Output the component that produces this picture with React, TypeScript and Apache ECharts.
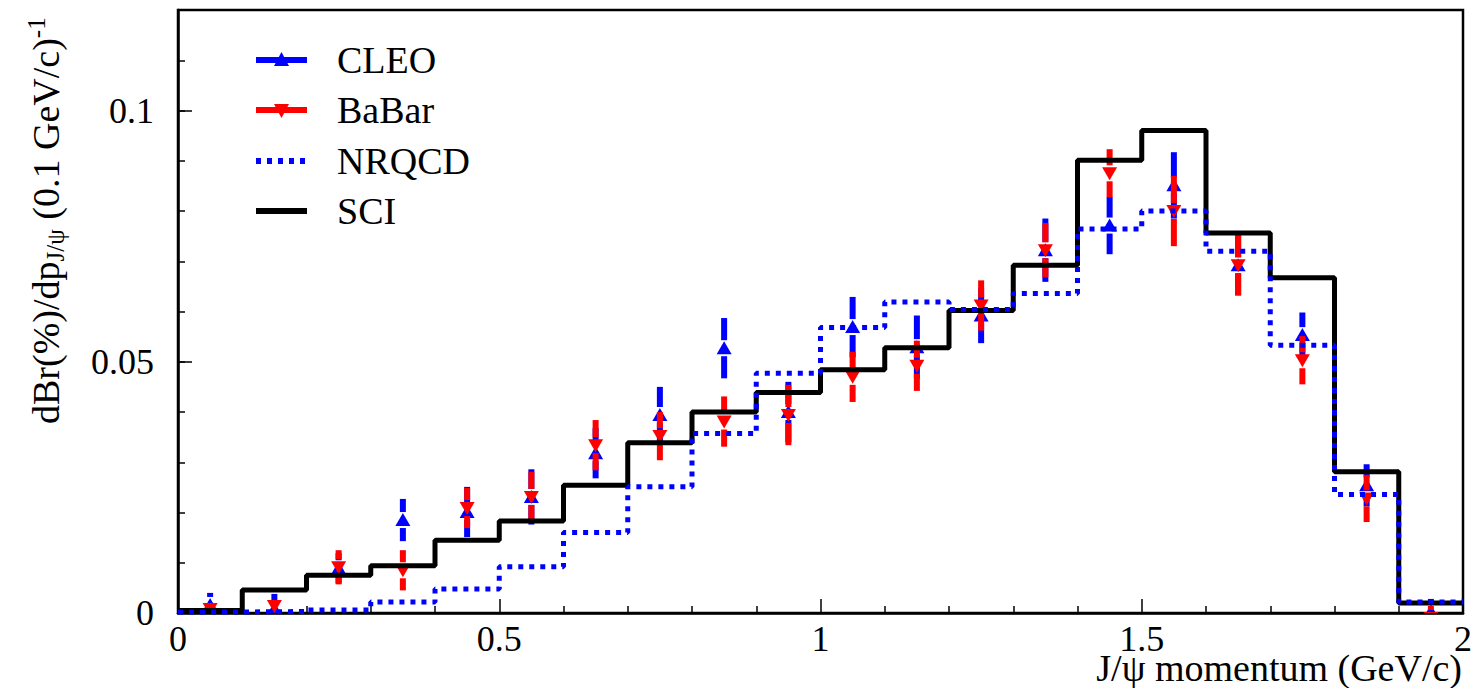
import React, { useEffect, useRef } from "react";
import * as echarts from "echarts";

// Bin edges of the 0.1 GeV/c momentum bins
const binEdges = [0, 0.1, 0.2, 0.3, 0.4, 0.5, 0.6, 0.7, 0.8, 0.9, 1.0, 1.1, 1.2, 1.3, 1.4, 1.5, 1.6, 1.7, 1.8, 1.9, 2.0];

// Theory histograms
const sciValues = [0.0005, 0.0046, 0.0075, 0.0094, 0.0145, 0.0183, 0.0254, 0.0339, 0.0400, 0.0439, 0.0484, 0.0528, 0.0602, 0.0692, 0.0901, 0.0960, 0.0756, 0.0667, 0.0281, 0.0020];
const nrqcdValues = [0.0002, 0.0003, 0.0006, 0.0022, 0.0048, 0.0092, 0.0160, 0.0251, 0.0357, 0.0477, 0.0568, 0.0619, 0.0604, 0.0636, 0.0764, 0.0800, 0.0720, 0.0533, 0.0236, 0.0022];

// Measurements (value, symmetric error) at the bin centres
const cleoValues = [0.0016, 0.0008, 0.0089, 0.0185, 0.0201, 0.0231, 0.0318, 0.0394, 0.0527, 0.0400, 0.0569, 0.0529, 0.0592, 0.0722, 0.0771, 0.0851, 0.0692, 0.0553, 0.0254, 0.0003];
const cleoErrors = [0.0024, 0.003, 0.003, 0.0042, 0.005, 0.0055, 0.005, 0.0056, 0.006, 0.006, 0.006, 0.0063, 0.0055, 0.0063, 0.0057, 0.0066, 0.006, 0.0045, 0.0042, 0.0025];
const babarValues = [0.0008, 0.0014, 0.0091, 0.0085, 0.0209, 0.0231, 0.0334, 0.0352, 0.0381, 0.0394, 0.0470, 0.0492, 0.0612, 0.0722, 0.0875, 0.0800, 0.0692, 0.0503, 0.0228, -0.001];
const babarErrors = [0.001, 0.0015, 0.0034, 0.004, 0.004, 0.005, 0.005, 0.0048, 0.005, 0.006, 0.005, 0.005, 0.005, 0.0054, 0.0048, 0.007, 0.006, 0.0048, 0.0047, 0.0024];

// Axis ticks
const xTickStep = 0.5;
const yTickStep = 0.05;
const yMinorStep = 0.01;
const yMax = 0.12;

const FONT = "Liberation Serif";
const BLUE = "#0000ff";
const RED = "#ff0000";

const binCenters = binEdges.slice(0, -1).map((e, i) => (e + binEdges[i + 1]) / 2);

function histData(vals: number[]) {
  const d = vals.map((v, i) => [binEdges[i], v]);
  d.push([binEdges[binEdges.length - 1], vals[vals.length - 1]]);
  return d;
}

function errorSeries(name: string, values: number[], errors: number[], color: string, up: boolean) {
  return {
    name,
    type: "custom",
    clip: true,
    data: binCenters.map((x, i) => [x, values[i], errors[i]]),
    encode: { x: 0, y: 1 },
    renderItem: (params: any, api: any) => {
      const x = api.value(0);
      const y = api.value(1);
      const e = api.value(2);
      const c = api.coord([x, y]);
      const t = api.coord([x, y + e])[1];
      const b = api.coord([x, y - e])[1];
      const half = 8;
      const children: any[] = [];
      if (c[1] - half > t) {
        children.push({ type: "line", shape: { x1: c[0], y1: t, x2: c[0], y2: c[1] - half }, style: { stroke: color, lineWidth: 6 } });
      }
      if (b > c[1] + half) {
        children.push({ type: "line", shape: { x1: c[0], y1: c[1] + half, x2: c[0], y2: b }, style: { stroke: color, lineWidth: 6 } });
      }
      const pts = up
        ? [[c[0], c[1] - 7], [c[0] - 7.5, c[1] + 6], [c[0] + 7.5, c[1] + 6]]
        : [[c[0], c[1] + 7], [c[0] - 7.5, c[1] - 6], [c[0] + 7.5, c[1] - 6]];
      children.push({ type: "polygon", shape: { points: pts }, style: { fill: color } });
      return { type: "group", children };
    },
  };
}

function legendItems() {
  const x1 = 256, x2 = 307, xt = 337;
  const rows = [
    { label: "CLEO", y: 60, color: BLUE, dash: null as any, marker: "up" },
    { label: "BaBar", y: 110, color: RED, dash: null as any, marker: "down" },
    { label: "NRQCD", y: 161, color: BLUE, dash: [5, 6], marker: "" },
    { label: "SCI", y: 211, color: "#000", dash: null as any, marker: "" },
  ];
  const els: any[] = [];
  rows.forEach((r) => {
    els.push({
      type: "line",
      shape: { x1, y1: r.y, x2, y2: r.y },
      style: { stroke: r.color, lineWidth: 6, lineDash: r.dash || undefined },
    });
    const cx = (x1 + x2) / 2;
    if (r.marker === "up") {
      els.push({ type: "polygon", shape: { points: [[cx, r.y - 8], [cx - 7.5, r.y + 6], [cx + 7.5, r.y + 6]] }, style: { fill: r.color } });
    } else if (r.marker === "down") {
      els.push({ type: "polygon", shape: { points: [[cx, r.y + 8], [cx - 7.5, r.y - 6], [cx + 7.5, r.y - 6]] }, style: { fill: r.color } });
    }
    els.push({
      type: "text",
      x: xt,
      y: r.y,
      style: { text: r.label, fontSize: 38, fontFamily: FONT, fill: "#000", align: "left", verticalAlign: "middle" },
    });
  });
  return els;
}

export default function App() {
  const ref = useRef<HTMLDivElement>(null);
  useEffect(() => {
    if (!ref.current) return;
    const chart = echarts.init(ref.current, null, { renderer: "svg" });
    const option: any = {
      animation: false,
      backgroundColor: "#fff",
      grid: {
        left: 178,
        right: 9,
        top: 10,
        bottom: 75,
        show: true,
        borderColor: "#000",
        borderWidth: 2.5,
        outerBoundsMode: "none",
      },
      xAxis: {
        type: "value",
        min: 0,
        max: 2,
        interval: xTickStep,
        axisLine: { show: true, lineStyle: { color: "#000", width: 2.5 } },
        axisTick: { show: true, inside: true, length: 14, lineStyle: { color: "#000", width: 1.5 } },
        minorTick: { show: true, splitNumber: 5, length: 7, lineStyle: { color: "#000", width: 1.5 } },
        axisLabel: { fontSize: 36, lineHeight: 28, fontFamily: FONT, color: "#000", margin: 12 },
        splitLine: { show: false },
        minorSplitLine: { show: false },
      },
      yAxis: [
        {
          type: "value",
          min: 0,
          max: yMax,
          interval: yTickStep,
          axisLine: { show: true, lineStyle: { color: "#000", width: 2.5 } },
          axisTick: { show: true, inside: true, length: 14, lineStyle: { color: "#000", width: 1.5 } },
          axisLabel: { fontSize: 36, fontFamily: FONT, color: "#000", margin: 24, showMaxLabel: false },
          splitLine: { show: false },
        },
        {
          type: "value",
          position: "left",
          min: 0,
          max: yMax,
          interval: yMinorStep,
          axisLine: { show: false },
          axisTick: { show: true, inside: true, length: 7, lineStyle: { color: "#000", width: 1.5 } },
          axisLabel: { show: false },
          splitLine: { show: false },
        },
      ],
      series: [
        {
          name: "SCI",
          type: "line",
          step: "end",
          symbol: "none",
          data: histData(sciValues),
          lineStyle: { color: "#000", width: 5 },
        },
        {
          name: "NRQCD",
          type: "line",
          step: "end",
          symbol: "none",
          data: histData(nrqcdValues),
          lineStyle: { color: BLUE, width: 5, type: [5, 6], cap: "butt" },
        },
        errorSeries("CLEO", cleoValues, cleoErrors, BLUE, true),
        errorSeries("BaBar", babarValues, babarErrors, RED, false),
      ],
      graphic: [
        ...legendItems(),
        {
          type: "text",
          x: 1462,
          y: 668,
          style: {
            text: "J/ψ momentum (GeV/c)",
            fontSize: 38,
            lineHeight: 28,
            fontFamily: FONT,
            fill: "#000",
            align: "right",
            verticalAlign: "middle",
          },
        },
        {
          type: "text",
          x: 46,
          y: 424,
          rotation: Math.PI / 2,
          style: {
            text: "{m|dBr(%)/dp}{s|J/ψ}{m| (0.1 GeV/c)}{u|-1}",
            align: "left",
            verticalAlign: "middle",
            fill: "#000",
            fontFamily: FONT,
            fontSize: 38,
            rich: {
              m: { fontSize: 38, lineHeight: 44, fontFamily: FONT, fill: "#000" },
              s: { fontSize: 25, lineHeight: 25, fontFamily: FONT, fill: "#000", verticalAlign: "bottom" },
              u: { fontSize: 25, lineHeight: 25, fontFamily: FONT, fill: "#000", verticalAlign: "top" },
            },
          },
        },
      ],
    };
    chart.setOption(option);
    return () => chart.dispose();
  }, []);
  return <div ref={ref} style={{ position: "fixed", left: 0, top: 0, width: 1472, height: 688 }} />;
}
